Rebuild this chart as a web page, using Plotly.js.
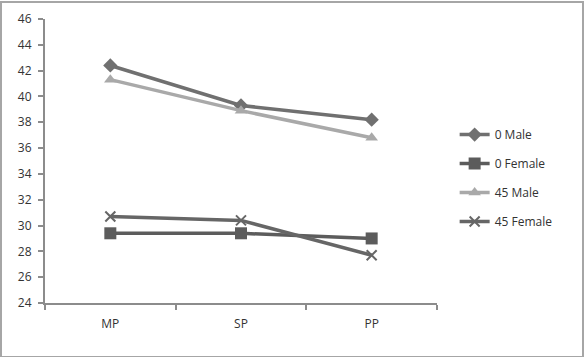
<!DOCTYPE html>
<html>
<head>
<meta charset="utf-8">
<script src="https://cdn.plot.ly/plotly-3.0.1.min.js"></script>
<style>
html,body{margin:0;padding:0;background:#fff;}
#wrap{position:relative;width:584px;height:357px;}
#chart{width:584px;height:357px;}
#frame{position:absolute;left:0;top:1px;width:580px;height:353px;border:2px solid #a6a6a6;pointer-events:none;}
</style>
</head>
<body>
<div id="wrap"><div id="chart"></div><div id="frame"></div></div>
<script>
const categories = ["MP", "SP", "PP"];
const male0 = [42.4, 39.3, 38.2];
const female0 = [29.4, 29.4, 29.0];
const male45 = [41.3, 38.9, 36.8];
const female45 = [30.7, 30.4, 27.7];
const seriesNames = ["0 Male", "0 Female", "45 Male", "45 Female"];
const yTicks = [24, 26, 28, 30, 32, 34, 36, 38, 40, 42, 44, 46];

const colors = ["#707070", "#5c5c5c", "#a9a9a9", "#666666"];
const symbols = ["diamond", "square", "triangle-up", "x-thin-open"];
const sizes = [11, 12, 11, 10];
const data = [male0, female0, male45, female45].map((vals, i) => ({
  type: "scatter",
  mode: "lines+markers",
  x: categories,
  y: vals,
  name: seriesNames[i],
  legendgroup: "g" + i,
  line: {color: colors[i], width: 3.5},
  marker: {symbol: symbols[i], size: sizes[i], color: colors[i],
           line: {color: colors[i], width: i === 3 ? 2 : 0}}
}));

const layout = {
  width: 584, height: 357,
  margin: {l: 45, r: 147, t: 19, b: 54},
  paper_bgcolor: "#fff", plot_bgcolor: "#fff",
  font: {family: "Open Sans, Liberation Sans, sans-serif", size: 12, color: "#333"},
  showlegend: true,
  legend: {x: 1.045, y: 0.44, xanchor: "left", yanchor: "middle",
           traceorder: "grouped", tracegroupgap: 10, itemwidth: 30,
           font: {size: 12, color: "#333"}, bgcolor: "rgba(0,0,0,0)"},
  xaxis: {type: "category", range: [-0.5, 2.5], showline: true, linecolor: "#8c8c8c", linewidth: 2,
          ticks: "outside", tickson: "boundaries", ticklen: 5, tickcolor: "#8c8c8c", tickwidth: 2,
          ticklabelstandoff: 9,
          showgrid: false, zeroline: false, fixedrange: true, tickfont: {size: 12}},
  yaxis: {range: [24, 46], tickvals: yTicks, ticktext: yTicks.map(String),
          showline: true, linecolor: "#8c8c8c", linewidth: 2,
          ticks: "outside", ticklen: 5, tickcolor: "#8c8c8c", tickwidth: 2,
          ticklabelstandoff: 4,
          showgrid: false, zeroline: false, fixedrange: true, tickfont: {size: 12}}
};
Plotly.newPlot("chart", data, layout, {displayModeBar: false, staticPlot: true});
</script>
</body>
</html>
